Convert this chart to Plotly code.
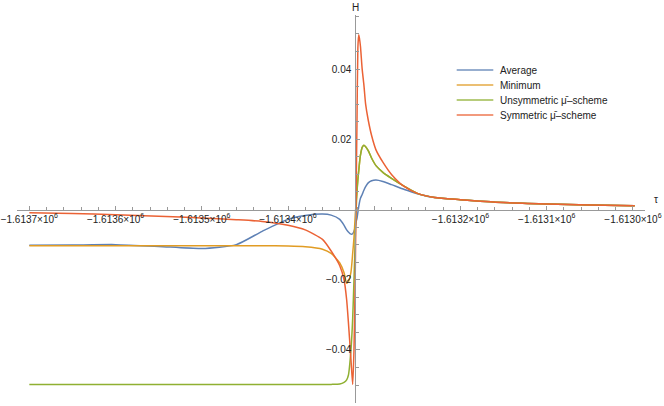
import plotly.graph_objects as go

# ---- data ----
tau = [-1613700, -1613650, -1613600, -1613550, -1613500, -1613460, -1613430,
       -1613400, -1613380, -1613360, -1613350, -1613340, -1613335, -1613332,
       -1613330, -1613327, -1613325, -1613323.5, -1613322, -1613321, -1613320,
       -1613319, -1613318, -1613317, -1613316, -1613314, -1613312, -1613310,
       -1613307, -1613303, -1613298, -1613290, -1613280, -1613265, -1613250,
       -1613230, -1613200, -1613150, -1613100, -1613050, -1612998]

average = [-0.0102, -0.0101, -0.0100, -0.0105, -0.0111, -0.0100, -0.0062,
           -0.0028, -0.0017, -0.0013, -0.0016, -0.0028, -0.0045, -0.0058,
           -0.0064, -0.0070, -0.0069, -0.0062, -0.0050, -0.0035, -0.0025,
           -0.0008, 0.0008, 0.0022, 0.0032, 0.0043, 0.0055, 0.0065,
           0.0076, 0.0082, 0.0084, 0.0080, 0.0071, 0.0057, 0.0045,
           0.0034, 0.0028, 0.0020, 0.0016, 0.0013, 0.0011]

minimum = [-0.0103, -0.0103, -0.0103, -0.0103, -0.0103, -0.0103, -0.0103,
           -0.0104, -0.0106, -0.0113, -0.0125, -0.0152, -0.0180, -0.0210,
           -0.0205, -0.0178, -0.0125, -0.0080, -0.0015, 0.0020, 0.0055,
           0.0085, 0.0110, 0.0135, 0.0155, 0.0177, 0.0183, 0.0179,
           0.0168, 0.0146, 0.0125, 0.0106, 0.0089, 0.0066, 0.0046,
           0.0034, 0.0028, 0.0020, 0.0016, 0.0013, 0.0011]

unsymmetric = [-0.0498, -0.0498, -0.0498, -0.0498, -0.0498, -0.0498, -0.0498,
               -0.0498, -0.0498, -0.0498, -0.0498, -0.0497, -0.0492, -0.0485,
               -0.0472, -0.0400, -0.0310, -0.0200, -0.0080, 0.0000, 0.0050,
               0.0085, 0.0110, 0.0135, 0.0155, 0.0177, 0.0183, 0.0179,
               0.0168, 0.0146, 0.0125, 0.0106, 0.0089, 0.0066, 0.0046,
               0.0034, 0.0028, 0.0020, 0.0016, 0.0013, 0.0011]

symmetric = [-0.0009, -0.0011, -0.0015, -0.0019, -0.0024, -0.0029, -0.0034,
             -0.0045, -0.0058, -0.0085, -0.0118, -0.0160, -0.0200, -0.0257,
             -0.0320, -0.0427, -0.0498, -0.0400, -0.0180, 0.0050, 0.0254,
             0.0460, 0.0498, 0.0485, 0.0465, 0.0400, 0.0355, 0.0300,
             0.0255, 0.0210, 0.0170, 0.0135, 0.0100, 0.0065, 0.0046,
             0.0034, 0.0028, 0.0020, 0.0016, 0.0013, 0.0011]

series_names = ["Average", "Minimum", "Unsymmetric \u03bc\u0304\u2013scheme", "Symmetric \u03bc\u0304\u2013scheme"]
series_colors = ["#5E81B5", "#E19C24", "#8FB032", "#EB6235"]

x_tickvals = [-1613700, -1613600, -1613500, -1613400, -1613300, -1613200, -1613100, -1613000]
x_ticktext = ["\u22121.6137\u00d710<sup>6</sup>", "\u22121.6136\u00d710<sup>6</sup>",
              "\u22121.6135\u00d710<sup>6</sup>", "\u22121.6134\u00d710<sup>6</sup>", "",
              "\u22121.6132\u00d710<sup>6</sup>", "\u22121.6131\u00d710<sup>6</sup>",
              "\u22121.6130\u00d710<sup>6</sup>"]
y_tickvals = [-0.04, -0.02, 0.02, 0.04]
y_ticktext = ["\u22120.04", "\u22120.02", "0.02", "0.04"]

tau_origin = -1613322
x_range = [-1613714.6, -1612986]
y_range = [-0.0551, 0.0554]
x_domain = [0.0252, 0.9714]
y_domain = [0.0074, 0.963]

W, H = 664, 406

fig = go.Figure()
for name, col, vals in zip(series_names, series_colors,
                           [average, minimum, unsymmetric, symmetric]):
    fig.add_trace(go.Scatter(x=tau, y=vals, mode="lines", name=name, showlegend=False,
                             line=dict(color=col, width=1.5, shape="spline", smoothing=0.6)))

# axes crossing at origin
xpos = y_domain[0] + (0 - y_range[0]) / (y_range[1] - y_range[0]) * (y_domain[1] - y_domain[0])
ypos = x_domain[0] + (tau_origin - x_range[0]) / (x_range[1] - x_range[0]) * (x_domain[1] - x_domain[0])

axis_col = "#999999"
font = dict(family="Liberation Sans, Arial, sans-serif", size=10, color="#222222")

# legend (Mathematica style: compact rows)
leg_x0, leg_x1, leg_tx = 456.7 / W, 493.3 / W, 498.3 / W
leg_y0, leg_dy = 70.0, 15.0
shapes, annotations = [], []
for i, (name, col) in enumerate(zip(series_names, series_colors)):
    yy = 1 - (leg_y0 + i * leg_dy) / H
    shapes.append(dict(type="line", xref="paper", yref="paper", x0=leg_x0, x1=leg_x1,
                       y0=yy, y1=yy, line=dict(color=col, width=1.5), opacity=0.85))
    annotations.append(dict(text=name, x=leg_tx, y=yy, xref="paper", yref="paper",
                            showarrow=False, font=font, xanchor="left", yanchor="middle"))

annotations.append(dict(text="H", x=ypos, y=1 - 7 / H, xref="paper", yref="paper",
                        showarrow=False, font=font, xanchor="center", yanchor="middle"))
annotations.append(dict(text="\u03c4", x=656 / W, y=xpos + 10 / H, xref="paper", yref="paper",
                        showarrow=False, font=font, xanchor="center", yanchor="middle"))

fig.update_layout(
    width=W, height=H, autosize=False,
    margin=dict(l=0, r=0, t=0, b=0),
    paper_bgcolor="white", plot_bgcolor="white",
    font=font,
    showlegend=False,
    xaxis=dict(range=x_range, domain=x_domain, anchor="free", position=xpos,
               showgrid=False, zeroline=False, showline=True, linecolor=axis_col, linewidth=1,
               tickmode="array", tickvals=x_tickvals, ticktext=x_ticktext,
               ticks="inside", ticklen=4, tickcolor=axis_col, tickfont=font,
               minor=dict(ticks="inside", ticklen=2.5, tickcolor=axis_col, dtick=20, tick0=-1613700),
               automargin=False),
    yaxis=dict(range=y_range, domain=y_domain, anchor="free", position=ypos,
               showgrid=False, zeroline=False, showline=True, linecolor=axis_col, linewidth=1,
               tickmode="array", tickvals=y_tickvals, ticktext=y_ticktext,
               ticks="inside", ticklen=4, tickcolor=axis_col, tickfont=font,
               ticklabelstandoff=2,
               minor=dict(ticks="inside", ticklen=2.5, tickcolor=axis_col, dtick=0.005, tick0=0),
               automargin=False),
    shapes=shapes,
    annotations=annotations,
)

fig.write_html("out.html", config={"displayModeBar": False},
               post_script="document.body.style.margin='0';")
